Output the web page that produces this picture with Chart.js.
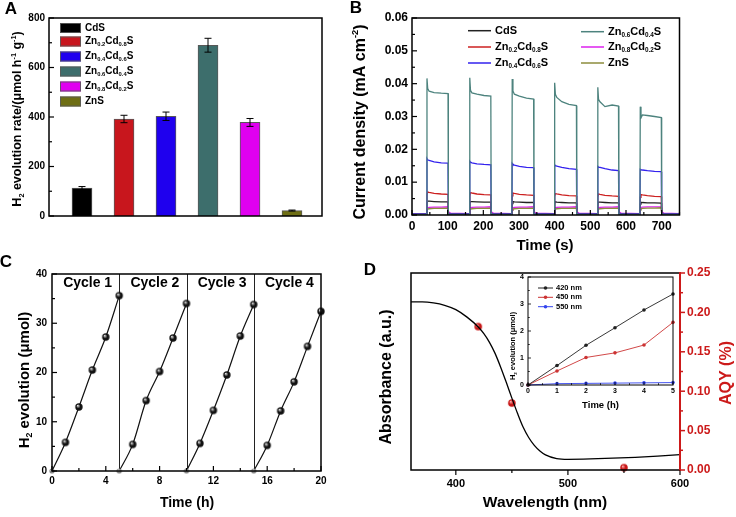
<!DOCTYPE html>
<html><head><meta charset="utf-8">
<script src="https://cdn.jsdelivr.net/npm/chart.js@4/dist/chart.umd.min.js"></script>
<style>
html,body{margin:0;padding:0;background:#fff;}
#wrap{position:relative;width:736px;height:517px;overflow:hidden;background:#fff;}
canvas{position:absolute;}
</style></head><body>
<div id="wrap">
<canvas id="cA" width="340" height="255" style="left:0;top:0"></canvas>
<canvas id="cB" width="396" height="255" style="left:340px;top:0"></canvas>
<canvas id="cC" width="340" height="262" style="left:0;top:255px"></canvas>
<canvas id="cD" width="396" height="262" style="left:340px;top:255px"></canvas>
<canvas id="cI" width="190" height="150" style="left:490px;top:262px"></canvas>
</div>
<script>
// ---------------- DATA ----------------
// Panel A
const catsA = ['CdS','Zn_{0.2}Cd_{0.8}S','Zn_{0.4}Cd_{0.6}S','Zn_{0.6}Cd_{0.4}S','Zn_{0.8}Cd_{0.2}S','ZnS'];
const posA = [1,2,3,4,5,6];
const rateA = [113, 392, 403, 690, 378, 22];
const errA = [6, 15, 17, 28, 16, 2];
const ticksAy = [0,200,400,600,800];
const colA = ['#000000','#c8161d','#1f00ee','#3d6e6c','#e000f0','#6e6e14'];

// Panel B  (time in s, current density in mA cm^-2)
const tB = [0,
 41,42,44,48,62,82,101,102,108,
 161,162,164,168,182,202,221,222,228,
 280,281,283,287,301,321,341,342,348,
 399,400,402,406,420,440,461,462,468,
 520,521,523,527,541,561,579,580,586,
 639,640,642,646,660,680,699,700,706,
 750];
const jB_CdS = [0.0002,
 0.0002,0.0036,0.0042,0.0042,0.0041,0.0040,0.0040,0.0004,0.0002,
 0.0002,0.0035,0.0041,0.0041,0.0040,0.0039,0.0039,0.0004,0.0002,
 0.0002,0.0035,0.0041,0.0040,0.0039,0.0038,0.0038,0.0004,0.0002,
 0.0002,0.0034,0.0040,0.0039,0.0038,0.0037,0.0037,0.0004,0.0002,
 0.0002,0.0034,0.0039,0.0039,0.0038,0.0037,0.0037,0.0004,0.0002,
 0.0002,0.0033,0.0039,0.0038,0.0037,0.0037,0.0036,0.0004,0.0002,
 0.0002];
const jB_Zn02 = [0.0003,
 0.0003,0.0060,0.0070,0.0069,0.0066,0.0064,0.0063,0.0006,0.0003,
 0.0003,0.0058,0.0068,0.0067,0.0064,0.0062,0.0061,0.0006,0.0003,
 0.0003,0.0058,0.0067,0.0066,0.0063,0.0061,0.0060,0.0006,0.0003,
 0.0003,0.0056,0.0065,0.0064,0.0061,0.0059,0.0058,0.0006,0.0003,
 0.0003,0.0055,0.0064,0.0063,0.0060,0.0058,0.0057,0.0006,0.0003,
 0.0003,0.0054,0.0062,0.0061,0.0059,0.0057,0.0056,0.0006,0.0003,
 0.0003];
const jB_Zn04 = [0.0003,
 0.0003,0.0172,0.0168,0.0166,0.0162,0.0159,0.0158,0.0004,0.0003,
 0.0003,0.0164,0.0161,0.0159,0.0156,0.0154,0.0153,0.0004,0.0003,
 0.0003,0.0157,0.0154,0.0152,0.0148,0.0145,0.0144,0.0004,0.0003,
 0.0003,0.0153,0.0150,0.0149,0.0145,0.0141,0.0139,0.0004,0.0003,
 0.0003,0.0148,0.0146,0.0145,0.0141,0.0137,0.0135,0.0004,0.0003,
 0.0003,0.0139,0.0138,0.0137,0.0135,0.0133,0.0132,0.0004,0.0003,
 0.0003];
const jB_Zn06 = [0.0002,
 0.0002,0.0416,0.0385,0.0377,0.0373,0.0371,0.0370,0.0003,0.0002,
 0.0002,0.0418,0.0380,0.0372,0.0368,0.0364,0.0362,0.0003,0.0002,
 0.0002,0.0414,0.0378,0.0368,0.0362,0.0356,0.0353,0.0003,0.0002,
 0.0002,0.0403,0.0368,0.0358,0.0345,0.0337,0.0333,0.0003,0.0002,
 0.0002,0.0389,0.0352,0.0345,0.0330,0.0335,0.0332,0.0003,0.0002,
 0.0002,0.0330,0.0296,0.0305,0.0303,0.0300,0.0297,0.0003,0.0002,
 0.0002];
const jB_Zn08 = [0.0004,
 0.0004,0.0016,0.0022,0.0023,0.0024,0.0024,0.0025,0.0010,0.0006,
 0.0004,0.0016,0.0022,0.0023,0.0024,0.0024,0.0025,0.0010,0.0006,
 0.0004,0.0016,0.0022,0.0023,0.0024,0.0024,0.0025,0.0010,0.0006,
 0.0004,0.0016,0.0022,0.0023,0.0024,0.0024,0.0025,0.0010,0.0006,
 0.0004,0.0016,0.0022,0.0023,0.0024,0.0024,0.0025,0.0010,0.0006,
 0.0004,0.0017,0.0023,0.0024,0.0025,0.0025,0.0025,0.0010,0.0006,
 0.0004];
const jB_ZnS = [0.0002,
 0.0002,0.0014,0.0018,0.0019,0.0020,0.0020,0.0021,0.0004,0.0002,
 0.0002,0.0014,0.0018,0.0019,0.0020,0.0020,0.0021,0.0004,0.0002,
 0.0002,0.0014,0.0018,0.0019,0.0020,0.0020,0.0021,0.0004,0.0002,
 0.0002,0.0014,0.0018,0.0019,0.0020,0.0020,0.0021,0.0004,0.0002,
 0.0002,0.0014,0.0018,0.0019,0.0020,0.0020,0.0021,0.0004,0.0002,
 0.0002,0.0015,0.0019,0.0020,0.0021,0.0021,0.0022,0.0004,0.0002,
 0.0002];
const ticksBx = [0,100,200,300,400,500,600,700];
const ticksBy = [0,0.01,0.02,0.03,0.04,0.05,0.06];

// Panel C
const timeC = [[0,1,2,3,4,5],[5,6,7,8,9,10],[10,11,12,13,14,15],[15,16,17,18,19,20]];
const h2C = [[0,5.8,13.0,20.5,27.2,35.6],[0,5.4,14.3,20.2,27.0,34.0],[0,5.6,12.3,19.5,27.4,33.8],[0,5.2,12.2,18.1,25.3,32.4]];
const cycleNames = ['Cycle 1','Cycle 2','Cycle 3','Cycle 4'];
const cycleEnds = [5,10,15];
const ticksCx = [0,4,8,12,16,20];
const ticksCy = [0,10,20,30,40];

// Panel D
const wlD = [360,370,380,390,400,410,420,425,430,435,440,445,450,455,460,465,470,475,480,490,500,520,540,560,580,600];
const absD = [0.853,0.853,0.848,0.836,0.814,0.776,0.726,0.692,0.648,0.592,0.522,0.445,0.365,0.288,0.218,0.165,0.125,0.097,0.077,0.058,0.054,0.056,0.060,0.064,0.070,0.078];
const aqyWl = [420,450,550];
const aqyD = [0.182,0.085,0.003];
const ticksDx = [400,500,600];
const ticksDy = [0,0.05,0.10,0.15,0.20,0.25];

// Inset
const tIn = [0,1,2,3,4,5];
const in420 = [0,0.72,1.47,2.12,2.78,3.37];
const in450 = [0,0.52,1.02,1.19,1.48,2.32];
const in550 = [0,0.05,0.06,0.07,0.08,0.09];
const ticksIx = [0,1,2,3,4,5];
const ticksIy = [0,1,2,3,4];

// ---------------- HELPERS ----------------
const FAM = '"Liberation Sans", Arial, Helvetica, sans-serif';
Chart.defaults.font.family = FAM;
Chart.defaults.color = '#000';

function parseRich(s){
  const out=[]; let i=0, buf='';
  while(i<s.length){
    const c=s[i];
    if((c==='_'||c==='^') && s[i+1]==='{'){
      if(buf){out.push({t:buf,m:0});buf='';}
      const j=s.indexOf('}',i);
      out.push({t:s.slice(i+2,j),m:c==='_'?1:2});
      i=j+1; continue;
    }
    buf+=c; i++;
  }
  if(buf) out.push({t:buf,m:0});
  return out;
}
function drawRich(ctx, s, x, y, size, o){
  o = o||{};
  const segs = parseRich(s);
  const sub = size*0.58;
  let total=0;
  segs.forEach(g=>{ ctx.font='bold '+(g.m?sub:size)+'px '+FAM; g.w=ctx.measureText(g.t).width; total+=g.w; });
  ctx.save();
  ctx.translate(x,y);
  if(o.rot) ctx.rotate(o.rot);
  ctx.fillStyle = o.color||'#000';
  ctx.textBaseline='middle'; ctx.textAlign='left';
  let cx = o.align==='left'?0:(o.align==='right'?-total:-total/2);
  segs.forEach(g=>{
    ctx.font='bold '+(g.m?sub:size)+'px '+FAM;
    const dy = g.m===1? size*0.32 : (g.m===2? -size*0.34 : 0);
    ctx.fillText(g.t, cx, dy);
    cx+=g.w;
  });
  ctx.restore();
}
function sphere(r, base, hi){
  const c=document.createElement('canvas'); const s=Math.ceil(r*2+2); c.width=s; c.height=s;
  const g=c.getContext('2d'); const cx=s/2, cy=s/2;
  const grd=g.createRadialGradient(cx-r*0.35, cy-r*0.4, r*0.05, cx, cy, r);
  grd.addColorStop(0, hi); grd.addColorStop(0.55, base); grd.addColorStop(1, base);
  g.fillStyle=grd; g.beginPath(); g.arc(cx,cy,r,0,Math.PI*2); g.fill();
  return c;
}
const frameTicks = {
  id:'frameTicks',
  afterDatasetsDraw(chart, args, o){
    const {ctx, chartArea:a} = chart;
    ctx.save();
    ctx.lineWidth = o.lw||1.5; ctx.strokeStyle = '#000';
    ctx.strokeRect(a.left, a.top, a.right-a.left, a.bottom-a.top);
    if(o.rightColor){ ctx.strokeStyle=o.rightColor; ctx.lineWidth=2; ctx.beginPath(); ctx.moveTo(a.right,a.top-1); ctx.lineTo(a.right,a.bottom+1); ctx.stroke(); }
    (o.axes||[]).forEach(ax=>{
      const s = chart.scales[ax.id];
      ctx.strokeStyle = ax.color||'#000'; ctx.lineWidth = ax.lw||1.2;
      const n = Math.round((ax.to-ax.from)/ax.minor);
      for(let k=0;k<=n;k++){
        const v = ax.from + k*ax.minor;
        const r = v/ax.major;
        const isMajor = Math.abs(r-Math.round(r))<1e-6;
        const L = ax.len||5;
        const len = isMajor? L : L*0.6;
        const p = s.getPixelForValue(v);
        ctx.beginPath();
        if(ax.side==='bottom'){ const d = ax.dir==='out'?len:-len; ctx.moveTo(p,a.bottom); ctx.lineTo(p,a.bottom+d);}
        else if(ax.side==='left'){ const d = ax.dir==='out'?-len:len; ctx.moveTo(a.left,p); ctx.lineTo(a.left+d,p);}
        else { const d = ax.dir==='out'?len:-len; ctx.moveTo(a.right,p); ctx.lineTo(a.right+d,p);}
        ctx.stroke();
      }
    });
    ctx.restore();
  }
};
function textPlugin(id, items){
  return { id, afterDraw(chart){ const ctx=chart.ctx; items.forEach(t=>drawRich(ctx,t[0],t[1],t[2],t[3],t[4])); } };
}
function fixTicks(arr){ return s=>{ s.ticks = arr.map(v=>({value:v})); }; }
const noGrid = {display:false, drawTicks:false};
const base = {responsive:false, animation:false, devicePixelRatio:1,
  plugins:{legend:{display:false}, tooltip:{enabled:false}}};
function tf(size){ return {size, weight:'bold', family:FAM}; }

// ---------------- PANEL A ----------------
new Chart(document.getElementById('cA'), {
  type:'bar',
  data:{datasets:[{data: posA.map((p,i)=>({x:p,y:rateA[i]})), backgroundColor: colA,
    borderColor:'rgba(70,70,70,0.9)', borderWidth:1, barThickness:20}]},
  options:Object.assign({}, base, {
    layout:{padding:{left:0,right:18,top:18,bottom:39}},
    plugins:Object.assign({}, base.plugins, {frameTicks:{axes:[{id:'y',side:'left',dir:'in',from:0,to:800,major:200,minor:100}]}}),
    scales:{
      x:{type:'linear', min:0.214, max:6.714, display:false, offset:false},
      y:{min:0,max:800, afterFit:s=>{s.width=49;}, afterBuildTicks:fixTicks(ticksAy), grid:noGrid, border:{display:false},
         ticks:{padding:4, color:'#000', font:tf(10)}}
    }
  }),
  plugins:[frameTicks, {
    id:'errA',
    afterDatasetsDraw(chart){
      const ctx=chart.ctx, meta=chart.getDatasetMeta(0), ys=chart.scales.y;
      ctx.save(); ctx.strokeStyle='#000'; ctx.lineWidth=1;
      meta.data.forEach((b,i)=>{
        const t=ys.getPixelForValue(rateA[i]+errA[i]), u=ys.getPixelForValue(rateA[i]-errA[i]);
        ctx.beginPath(); ctx.moveTo(b.x,t); ctx.lineTo(b.x,u);
        ctx.moveTo(b.x-3.5,t); ctx.lineTo(b.x+3.5,t); ctx.moveTo(b.x-3.5,u); ctx.lineTo(b.x+3.5,u); ctx.stroke();
      });
      // legend
      const rows=[28,41.5,56.5,71.5,86.5,101.5];
      catsA.forEach((c,i)=>{
        ctx.fillStyle=colA[i]; ctx.fillRect(60,rows[i]-5,21,10);
        ctx.strokeStyle='rgba(90,90,90,0.9)'; ctx.lineWidth=1; ctx.strokeRect(60.5,rows[i]-4.5,20,9);
        drawRich(ctx,c,85,rows[i],10,{align:'left'});
      });
      ctx.restore();
    }
  }, textPlugin('tA', [
    ['A',11,9,17,{}],
    ['H_{2} evolution rate/(μmol h^{-1} g^{-1})',18,119,12.5,{rot:-Math.PI/2}]
  ])]
});

// ---------------- PANEL B ----------------
const seriesB = [
  {d:jB_Zn06, c:'#4d837e'},
  {d:jB_Zn04, c:'#3322ee'},
  {d:jB_Zn02, c:'#cc2020'},
  {d:jB_CdS, c:'#222222'},
  {d:jB_ZnS, c:'#8c8c3c'},
  {d:jB_Zn08, c:'#dd22ee'}
];
const legB = [
  ['CdS','#222222',128,155,30.7],['Zn_{0.2}Cd_{0.8}S','#cc2020',128,155,47],['Zn_{0.4}Cd_{0.6}S','#3322ee',128,155,63],
  ['Zn_{0.6}Cd_{0.4}S','#4d837e',241,268,31.7],['Zn_{0.8}Cd_{0.2}S','#dd22ee',241,268,47],['ZnS','#8c8c3c',241,268,63]
];
new Chart(document.getElementById('cB'), {
  type:'line',
  data:{datasets: seriesB.map(s=>({data:tB.map((t,i)=>({x:t,y:s.d[i]})), borderColor:s.c, borderWidth:1.3, pointRadius:0, tension:0}))},
  options:Object.assign({}, base, {
    layout:{padding:{left:0,right:56.5,top:18,bottom:0}},
    plugins:Object.assign({}, base.plugins, {frameTicks:{axes:[
      {id:'y',side:'left',dir:'in',from:0,to:0.06,major:0.01,minor:0.005},
      {id:'x',side:'bottom',dir:'in',from:0,to:750,major:100,minor:50}]}}),
    scales:{
      x:{type:'linear', min:0, max:750, afterFit:s=>{s.height=40;}, afterBuildTicks:fixTicks(ticksBx), grid:noGrid, border:{display:false},
         ticks:{padding:4, color:'#000', font:tf(12), maxRotation:0, autoSkip:false}},
      y:{min:0,max:0.06, afterFit:s=>{s.width=72;}, afterBuildTicks:fixTicks(ticksBy), grid:noGrid, border:{display:false},
         ticks:{padding:4, color:'#000', font:tf(12), callback:v=>v.toFixed(2)}}
    }
  }),
  plugins:[frameTicks, {
    id:'legB',
    afterDraw(chart){
      const ctx=chart.ctx; ctx.save(); ctx.lineWidth=1.5;
      legB.forEach(l=>{ ctx.strokeStyle=l[1]; ctx.beginPath(); ctx.moveTo(l[2],l[4]); ctx.lineTo(l[2]+23,l[4]); ctx.stroke();
        drawRich(ctx,l[0],l[3],l[4],11,{align:'left'}); });
      ctx.restore();
    }
  }, textPlugin('tB', [
    ['B',16,8,17,{}],
    ['Current density (mA cm^{-2})',21,122,16,{rot:-Math.PI/2}],
    ['Time (s)',205,246,15,{}]
  ])]
});

// ---------------- PANEL C ----------------
const sphK = sphere(3.7,'#111111','#e8e8e8');
const sphG = sphere(2.6,'#888888','#f0f0f0');
new Chart(document.getElementById('cC'), {
  type:'line',
  data:{datasets: timeC.map((tt,k)=>({data: tt.map((t,i)=>({x:t,y:h2C[k][i]})), borderColor:'#111', borderWidth:1.2,
     pointStyle: c=>c.dataIndex===0?sphG:sphK, pointRadius:4, cubicInterpolationMode:'monotone', clip:false}))},
  options:Object.assign({}, base, {
    layout:{padding:{left:0,right:19,top:19,bottom:0}},
    plugins:Object.assign({}, base.plugins, {frameTicks:{axes:[
      {id:'y',side:'left',dir:'in',from:0,to:40,major:10,minor:5},
      {id:'x',side:'bottom',dir:'in',from:0,to:20,major:4,minor:2}]}}),
    scales:{
      x:{type:'linear', min:0, max:20, afterFit:s=>{s.height=46;}, afterBuildTicks:fixTicks(ticksCx), grid:noGrid, border:{display:false},
         ticks:{padding:4, color:'#000', font:tf(10), maxRotation:0, autoSkip:false}},
      y:{min:0,max:40, afterFit:s=>{s.width=52;}, afterBuildTicks:fixTicks(ticksCy), grid:noGrid, border:{display:false},
         ticks:{padding:5, color:'#000', font:tf(10)}}
    }
  }),
  plugins:[{
    id:'sepC',
    beforeDatasetsDraw(chart){
      const ctx=chart.ctx, xs=chart.scales.x, a=chart.chartArea;
      ctx.save(); ctx.strokeStyle='#222'; ctx.lineWidth=1;
      cycleEnds.forEach(v=>{ const p=Math.round(xs.getPixelForValue(v))+0.5; ctx.beginPath(); ctx.moveTo(p,a.top); ctx.lineTo(p,a.bottom); ctx.stroke(); });
      cycleNames.forEach((n,i)=>drawRich(ctx,n,xs.getPixelForValue(timeC[i][0]+2.65),28.5,14,{}));
      ctx.restore();
    }
  }, frameTicks, textPlugin('tC', [
    ['C',6,7,17,{}],
    ['H_{2} evolution (μmol)',25,125,15,{rot:-Math.PI/2}],
    ['Time (h)',187,248,14,{}]
  ])]
});

// ---------------- PANEL D ----------------
const sphR = sphere(3.8,'#c81818','#ffb0b0');
new Chart(document.getElementById('cD'), {
  type:'line',
  data:{datasets:[
    {data: wlD.map((w,i)=>({x:w,y:absD[i]})), yAxisID:'yA', borderColor:'#000', borderWidth:1.3, pointRadius:0, cubicInterpolationMode:'monotone'},
    {data: aqyWl.map((w,i)=>({x:w,y:aqyD[i]})), yAxisID:'y2', showLine:false, pointStyle:sphR, pointRadius:4, clip:false}
  ]},
  options:Object.assign({}, base, {
    layout:{padding:{left:71,right:0,top:18,bottom:0}},
    plugins:Object.assign({}, base.plugins, {frameTicks:{rightColor:'#cc1a1a', axes:[
      {id:'x',side:'bottom',dir:'out',from:400,to:600,major:100,minor:50},
      {id:'y2',side:'right',dir:'out',from:0,to:0.25,major:0.05,minor:0.025,color:'#cc1a1a',lw:1.5}]}}),
    scales:{
      x:{type:'linear', min:360, max:600, afterFit:s=>{s.height=47;}, afterBuildTicks:fixTicks(ticksDx), grid:noGrid, border:{display:false},
         ticks:{padding:7, color:'#000', font:tf(11), maxRotation:0, autoSkip:false}},
      yA:{type:'linear', min:0, max:1, display:false},
      y2:{type:'linear', position:'right', min:0, max:0.25, afterFit:s=>{s.width=56;}, afterBuildTicks:fixTicks(ticksDy), grid:noGrid, border:{display:false},
         ticks:{padding:7, color:'#cc1a1a', font:tf(12), callback:v=>v.toFixed(2)}}
    }
  }),
  plugins:[frameTicks, textPlugin('tD', [
    ['D',30,15,17,{}],
    ['Absorbance (a.u.)',47,122,16,{rot:-Math.PI/2}],
    ['AQY (%)',387,118,16,{rot:-Math.PI/2, color:'#cc1a1a'}],
    ['Wavelength (nm)',205,248,15.5,{}]
  ])]
});

// ---------------- INSET ----------------
const legI = [['420 nm','#222222',26],['450 nm','#cc3333',35.3],['550 nm','#3344ee',44.7]];
new Chart(document.getElementById('cI'), {
  type:'line',
  data:{datasets:[
    {data:tIn.map((t,i)=>({x:t,y:in420[i]})), borderColor:'#222', backgroundColor:'#222', borderWidth:0.9, pointRadius:1.8, pointBorderWidth:0, clip:false},
    {data:tIn.map((t,i)=>({x:t,y:in450[i]})), borderColor:'#cc3333', backgroundColor:'#cc3333', borderWidth:0.9, pointRadius:1.8, pointBorderWidth:0, clip:false},
    {data:tIn.map((t,i)=>({x:t,y:in550[i]})), borderColor:'#3344ee', backgroundColor:'#3344ee', borderWidth:0.9, pointRadius:1.8, pointBorderWidth:0, clip:false}
  ]},
  options:Object.assign({}, base, {
    layout:{padding:{left:0,right:7,top:15,bottom:0}},
    plugins:Object.assign({}, base.plugins, {frameTicks:{lw:1, axes:[
      {id:'y',side:'left',dir:'in',from:0,to:4,major:1,minor:0.5,len:3,lw:0.8},
      {id:'x',side:'bottom',dir:'in',from:0,to:5,major:1,minor:0.5,len:3,lw:0.8}]}}),
    scales:{
      x:{type:'linear', min:0, max:5, afterFit:s=>{s.height=27;}, afterBuildTicks:fixTicks(ticksIx), grid:noGrid, border:{display:false},
         ticks:{padding:2, color:'#000', font:tf(7), maxRotation:0, autoSkip:false}},
      y:{min:0,max:4, afterFit:s=>{s.width=38;}, afterBuildTicks:fixTicks(ticksIy), grid:noGrid, border:{display:false},
         ticks:{padding:4, color:'#000', font:tf(7)}}
    }
  }),
  plugins:[{
    id:'bgI',
    beforeDraw(chart){ const a=chart.chartArea, ctx=chart.ctx; ctx.save(); ctx.fillStyle='#fff'; ctx.fillRect(a.left,a.top,a.right-a.left,a.bottom-a.top); ctx.restore(); }
  }, frameTicks, {
    id:'legI',
    afterDraw(chart){
      const ctx=chart.ctx; ctx.save();
      legI.forEach(l=>{ ctx.strokeStyle=l[1]; ctx.fillStyle=l[1]; ctx.lineWidth=1; ctx.beginPath(); ctx.moveTo(48,l[2]); ctx.lineTo(63,l[2]); ctx.stroke();
        ctx.beginPath(); ctx.arc(55.5,l[2],1.8,0,Math.PI*2); ctx.fill();
        drawRich(ctx,l[0],66,l[2],7.5,{align:'left'}); });
      ctx.restore();
    }
  }, textPlugin('tI', [
    ['H_{2} evolution (μmol)',23,84,7.5,{rot:-Math.PI/2}],
    ['Time (h)',110.5,143,9.5,{}]
  ])]
});
</script>
</body></html>
